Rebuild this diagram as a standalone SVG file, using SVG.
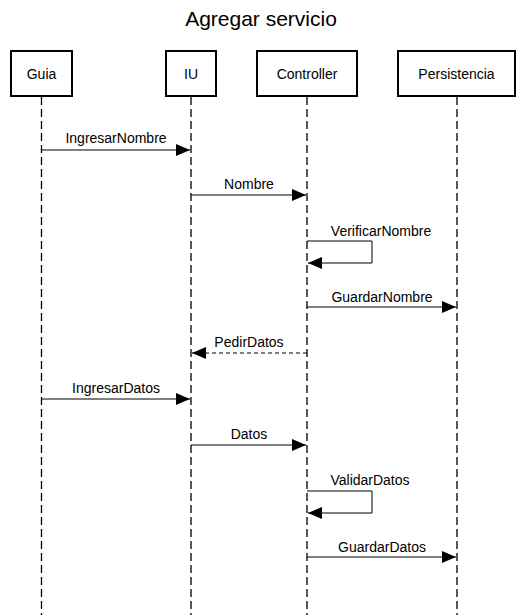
<svg xmlns="http://www.w3.org/2000/svg" width="522" height="615" viewBox="0 0 522 615">
<style>
text{font-family:"Liberation Sans",Arial,sans-serif;fill:#000;}
.t{font-size:21px;}
.l{font-size:14px;text-anchor:middle;}
.box{fill:#fff;stroke:#000;stroke-width:2;}
.life{stroke:#000;stroke-width:1.3;stroke-dasharray:8 4;fill:none;}
.msg{stroke:#000;stroke-width:1;fill:none;}
.ret{stroke:#000;stroke-width:1;fill:none;stroke-dasharray:4 3;}
</style>
<defs>
<marker id="ah" viewBox="0 0 14 12" refX="14" refY="6" markerWidth="14" markerHeight="12" markerUnits="userSpaceOnUse" orient="auto">
<path d="M0,0 L14,6 L0,12 Z" fill="#000"/>
</marker>
</defs>
<text class="t" x="261" y="25.5" text-anchor="middle">Agregar servicio</text>
<g id="lifelines">
<line class="life" x1="41.5" y1="97" x2="41.5" y2="615"/>
<line class="life" x1="191" y1="97" x2="191" y2="615"/>
<line class="life" x1="307" y1="97" x2="307" y2="615"/>
<line class="life" x1="457" y1="97" x2="457" y2="615"/>
</g>
<g id="guia"><rect class="box" x="11" y="51" width="61" height="45"/><text class="l" x="41.5" y="78.5">Guia</text></g>
<g id="iu"><rect class="box" x="166" y="51" width="50" height="45"/><text class="l" x="191" y="78.5">IU</text></g>
<g id="controller"><rect class="box" x="257" y="51" width="100" height="45"/><text class="l" x="307" y="78.5">Controller</text></g>
<g id="persistencia"><rect class="box" x="398" y="51" width="117" height="45"/><text class="l" x="456.5" y="78.5">Persistencia</text></g>
<g id="connectors">
<line class="msg" x1="41.5" y1="150" x2="190" y2="150" marker-end="url(#ah)"/>
<text class="l" x="116" y="143">IngresarNombre</text>
<line class="msg" x1="191" y1="195" x2="306" y2="195" marker-end="url(#ah)"/>
<text class="l" x="249" y="189">Nombre</text>
<path class="msg" d="M307,241 H372 V263 H308" marker-end="url(#ah)"/>
<text class="l" x="381" y="235.5">VerificarNombre</text>
<line class="msg" x1="307" y1="307" x2="456" y2="307" marker-end="url(#ah)"/>
<text class="l" x="382" y="302">GuardarNombre</text>
<line class="ret" x1="307" y1="353" x2="192" y2="353" marker-end="url(#ah)"/>
<text class="l" x="249" y="347">PedirDatos</text>
<line class="msg" x1="41.5" y1="399" x2="190" y2="399" marker-end="url(#ah)"/>
<text class="l" x="116" y="393">IngresarDatos</text>
<line class="msg" x1="191" y1="445" x2="306" y2="445" marker-end="url(#ah)"/>
<text class="l" x="249" y="439">Datos</text>
<path class="msg" d="M307,491 H372 V513 H308" marker-end="url(#ah)"/>
<text class="l" x="370" y="485">ValidarDatos</text>
<line class="msg" x1="307" y1="557" x2="456" y2="557" marker-end="url(#ah)"/>
<text class="l" x="382" y="552">GuardarDatos</text>
</g>
</svg>
